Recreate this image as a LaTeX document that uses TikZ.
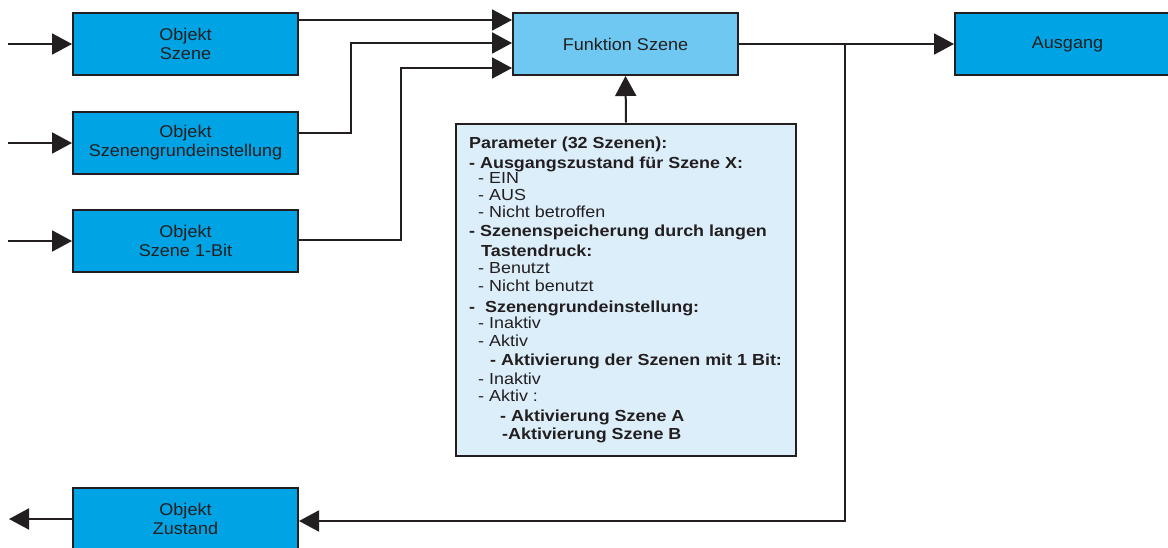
\documentclass[tikz,border=0pt]{standalone}
\usepackage{fontspec}
\setmainfont{Liberation Sans}
\newfontfamily\paramfont[FakeStretch=1.12]{Liberation Sans}
\newfontfamily\boxfont[FakeStretch=1.06]{Liberation Sans}
\usetikzlibrary{arrows.meta}
\definecolor{bluebox}{HTML}{00A3E3}
\definecolor{lightbox}{HTML}{6EC8F1}
\definecolor{parambox}{HTML}{DCEEF9}
\definecolor{ink}{HTML}{231F20}
\begin{document}
\begin{tikzpicture}[x=1pt,y=-1pt,
  every node/.style={text=ink},
  box/.style={draw=ink,line width=2pt,fill=bluebox,minimum width=225pt,minimum height=62pt,inner sep=0pt,align=center,font=\boxfont\fontsize{17}{19}\selectfont},
  conn/.style={draw=ink,line width=2pt},
  arr/.style={conn,-{Triangle[length=20pt,width=21pt]}},
  pline/.style={anchor=base west,inner sep=0pt,font=\paramfont\fontsize{16}{18}\selectfont},
  pbold/.style={pline,font=\paramfont\fontsize{16}{18}\selectfont\bfseries}]
\useasboundingbox (0,0) rectangle (1168,547);
\clip (0,0) rectangle (1168,547);
% boxes
\node[box] (b1) at (185.5,44) {Objekt\\Szene};
\node[box] (b2) at (185.5,143) {Objekt\\Szenengrundeinstellung};
\node[box] (b3) at (185.5,241) {Objekt\\Szene 1-Bit};
\node[box] (z) at (185.5,519) {Objekt\\Zustand};
\node[box,fill=lightbox] (f) at (625.5,44) {Funktion Szene};
\node[box] (a) at (1067.5,44) {\raisebox{-1.5pt}{Ausgang}};
\node[draw=ink,line width=2pt,fill=parambox,minimum width=340pt,minimum height=332pt,inner sep=0pt] (p) at (626,289.5) {};
% parameter text
\node[pbold] (p1) at (469,148) {Parameter (32 Szenen):};
\node[pbold] (p2) at (469,168) {- Ausgangszustand für Szene X:};
\node[pline] (p3) at (478,183) {- EIN};
\node[pline] (p4) at (478,200) {- AUS};
\node[pline] (p5) at (478,217) {- Nicht betroffen};
\node[pbold] (p6) at (469,236) {- Szenenspeicherung durch langen};
\node[pbold] (p7) at (481,256) {Tastendruck:};
\node[pline] (p8) at (478,273) {- Benutzt};
\node[pline] (p9) at (478,291) {- Nicht benutzt};
\node[pbold] (p10) at (469,312) {-\ \ Szenengrundeinstellung:};
\node[pline] (p11) at (478,328) {- Inaktiv};
\node[pline] (p12) at (478,346) {- Aktiv};
\node[pbold] (p13) at (490,365) {- Aktivierung der Szenen mit 1 Bit:};
\node[pline] (p14) at (478,384) {- Inaktiv};
\node[pline] (p15) at (478,401) {- Aktiv :};
\node[pbold] (p16) at (500,421) {- Aktivierung Szene A};
\node[pbold] (p17) at (502,439) {-Aktivierung Szene B};
% free ends
\coordinate (in1) at (8,44);
\coordinate (in2) at (8,143);
\coordinate (in3) at (8,241);
\coordinate (out) at (9,519);
\coordinate (br) at (845,44);
% connectors
\draw[arr] (in1) -- (b1.west);
\draw[arr] (in2) -- (b2.west);
\draw[arr] (in3) -- (b3.west);
\draw[arr] ([yshift=24pt]b1.east) -- ([yshift=24pt]f.west);
\draw[arr] ([yshift=10pt]b2.east) -- ++(52,0) |- ([yshift=1pt]f.west);
\draw[arr] ([yshift=1pt]b3.east) -- ++(102,0) |- ([yshift=-24pt]f.west);
\draw[arr] (p.north) -- (f.south);
\draw[arr] (f.east) -- (a.west);
\draw[arr] (br) |- ([yshift=-2pt]z.east);
\draw[arr] (z.west) -- (out);
\end{tikzpicture}
\end{document}
